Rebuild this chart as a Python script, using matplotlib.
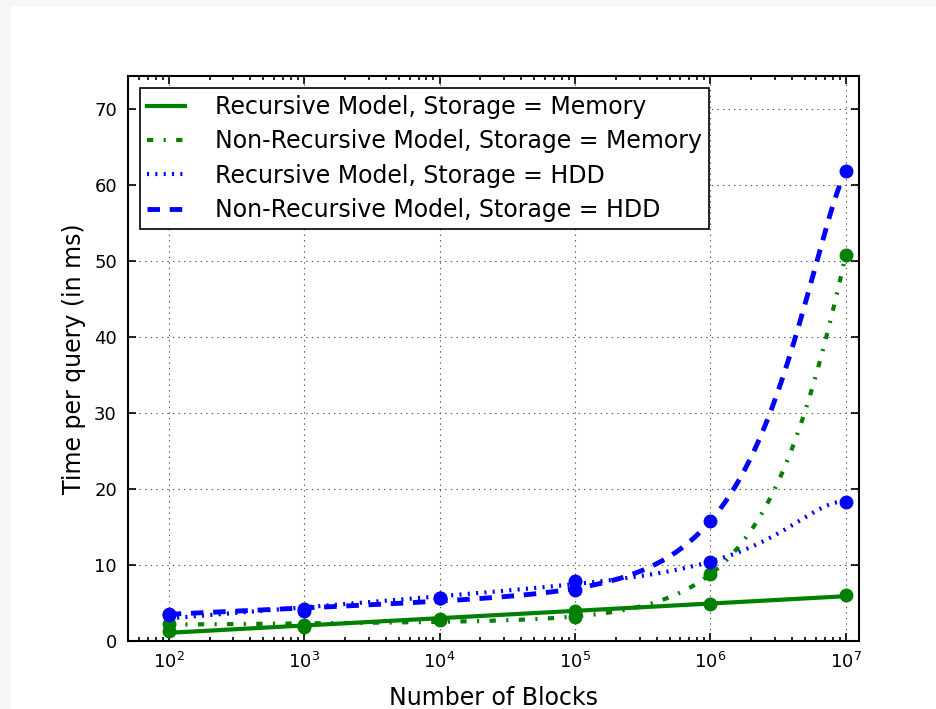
import numpy as np
import matplotlib
matplotlib.use("Agg")
import matplotlib.pyplot as plt
from matplotlib.patches import Rectangle

# values (ms per query)
blocks = [1e2, 1e3, 1e4, 1e5, 1e6, 1e7]
rec_mem = [1.3, 1.9, 2.9, 3.9, 4.8, 6.1]
nonrec_mem = [2.2, 2.1, 2.8, 3.1, 8.8, 50.8]
rec_hdd = [3.4, 3.9, 5.6, 7.9, 10.4, 18.3]
nonrec_hdd = [3.5, 4.2, 5.6, 6.7, 15.8, 61.8]

labels = ["Recursive Model, Storage = Memory",
          "Non-Recursive Model, Storage = Memory",
          "Recursive Model, Storage = HDD",
          "Non-Recursive Model, Storage = HDD"]

plt.rcParams['lines.scale_dashes'] = False


def fit_curve(xs, ys, full=True):
    # least squares trend: a + b*log10(x) (+ c*x + d*x^2)
    xs = np.asarray(xs)
    ys = np.asarray(ys)
    xx = np.logspace(np.log10(xs[0]), np.log10(xs[-1]), 300)

    def basis(x):
        cols = [np.ones_like(x), np.log10(x)]
        if full:
            s = x / xs[-1]
            cols += [s, s ** 2]
        return np.column_stack(cols)

    coef, *_ = np.linalg.lstsq(basis(xs), ys, rcond=None)
    return xx, basis(xx) @ coef


fig = plt.figure(figsize=(9.36, 7.09), dpi=100, facecolor='white')
# light grey frame of the screenshot
fig.patches.append(Rectangle((0, 0), 10 / 936, 1, transform=fig.transFigure,
                             color='#f7f7f7', zorder=-1))
fig.patches.append(Rectangle((0, 1 - 5 / 709), 1, 5 / 709, transform=fig.transFigure,
                             color='#f7f7f7', zorder=-1))

ax = fig.add_axes([128 / 936, 68 / 709, 731 / 936, 565 / 709])

series = [
    (rec_mem, 'g', dict(ls='-', lw=3), False),
    (nonrec_mem, 'g', dict(ls=(0, (4.5, 7.5, 1.5, 7.5)), lw=3), True),
    (rec_hdd, 'b', dict(ls=(0, (1.5, 4.5)), lw=3), True),
    (nonrec_hdd, 'b', dict(ls=(0, (9, 7)), lw=3.5), True),
]

for (ys, col, style, full), lab in zip(series, labels):
    xx, yy = fit_curve(blocks, ys, full)
    ax.plot(xx, yy, color=col, label=lab, **style)
    ax.plot(blocks, ys, 'o', color=col, mec=col, ms=9)

ax.set_xscale('log')
ax.set_xlim(50, 1.25e7)
ax.set_ylim(0, 74.3)
ax.set_yticks(range(0, 71, 10))

ax.grid(True, color='0.35', ls=(0, (1, 3)), lw=0.8)
for s in ax.spines.values():
    s.set_linewidth(1.5)
ax.tick_params(which='both', direction='in', top=True, right=True, width=1.2)
ax.tick_params(which='major', length=6, labelsize=13, pad=8)
ax.tick_params(which='minor', length=3)

ax.set_xlabel('Number of Blocks', fontsize=17, labelpad=10)
ax.set_ylabel('Time per query (in ms)', fontsize=17, labelpad=6)

leg = ax.legend(loc='upper left', fontsize=17, fancybox=False, framealpha=1,
                edgecolor='k', handlelength=1.6, handletextpad=1.3,
                borderaxespad=0.5, labelspacing=0.44, borderpad=0.3)
leg.get_frame().set_linewidth(1.2)

fig.savefig('out.png', dpi=100, facecolor=fig.get_facecolor())
